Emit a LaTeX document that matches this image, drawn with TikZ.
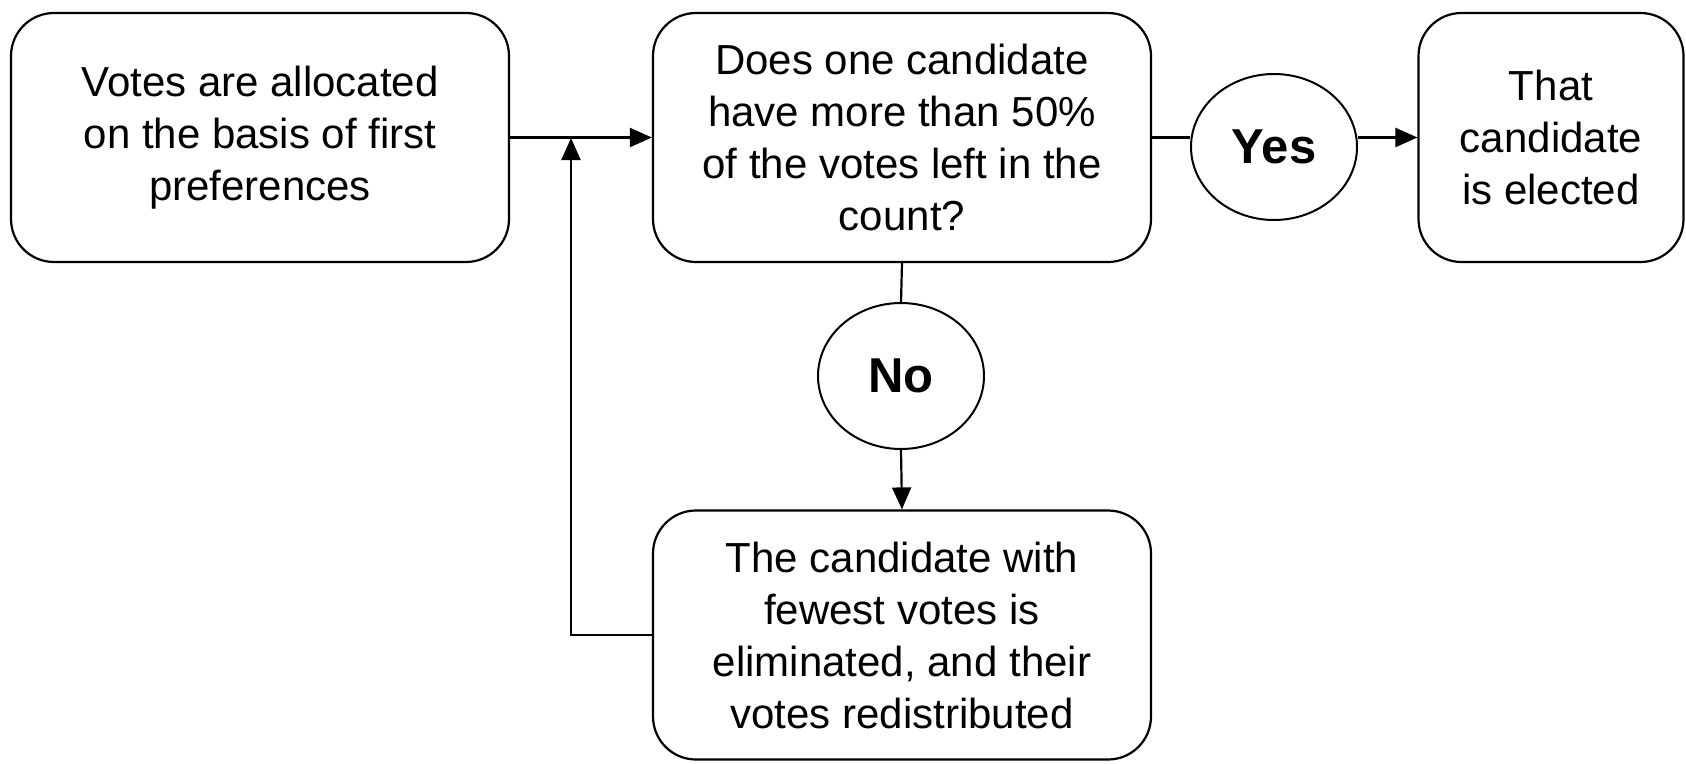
\documentclass[tikz,border=0pt]{standalone}
\usepackage{fontspec}
\setmainfont{Liberation Sans}
\usetikzlibrary{arrows.meta,shapes.geometric}
\begin{document}
\begin{tikzpicture}[
  x=1pt,y=1pt,
  box/.style={draw, line width=2.2pt, rounded corners=43pt, minimum width=498pt, minimum height=249pt, align=center, inner sep=0pt, font=\fontsize{42}{52}\selectfont},
  smallbox/.style={box, minimum width=265pt},
  oval/.style={draw, ellipse, line width=2pt, minimum width=166pt, minimum height=146pt, inner sep=0pt, font=\fontsize{49}{56}\selectfont\bfseries},
  conn/.style={line width=2.2pt},
  arr/.style={conn, -{Triangle[length=22pt,width=19pt]}}
]
\useasboundingbox (0,0) rectangle (1686,-763);
\node[box] (b1) at (260,-137.5) {Votes are allocated\\on the basis of first\\preferences};
\node[box] (b2) at (902,-137.5) {Does one candidate\\have more than 50\%\\of the votes left in the\\count?};
\node[smallbox] (b3) at (1551,-137.5) {That\\candidate\\is elected};
\node[box] (b4) at (902,-635) {The candidate with\\fewest votes is\\eliminated, and their\\votes redistributed};
\node[oval] (yes) at (1274,-147) {Yes};
\node[oval] (no) at (901,-376) {No};
\coordinate (lt) at (571,-138);
\draw[arr] (b1.east) -- (b2.west);
\draw[arr] (b4.west) -| (lt);
\draw[conn] (b2.east) -- (b2.east -| yes.west);
\draw[arr] (yes.east |- b2.east) -- (b3.west);
\draw[conn] (b2.south) -- (no.north);
\draw[arr] (no.south) -- (b4.north);
\end{tikzpicture}
\end{document}
